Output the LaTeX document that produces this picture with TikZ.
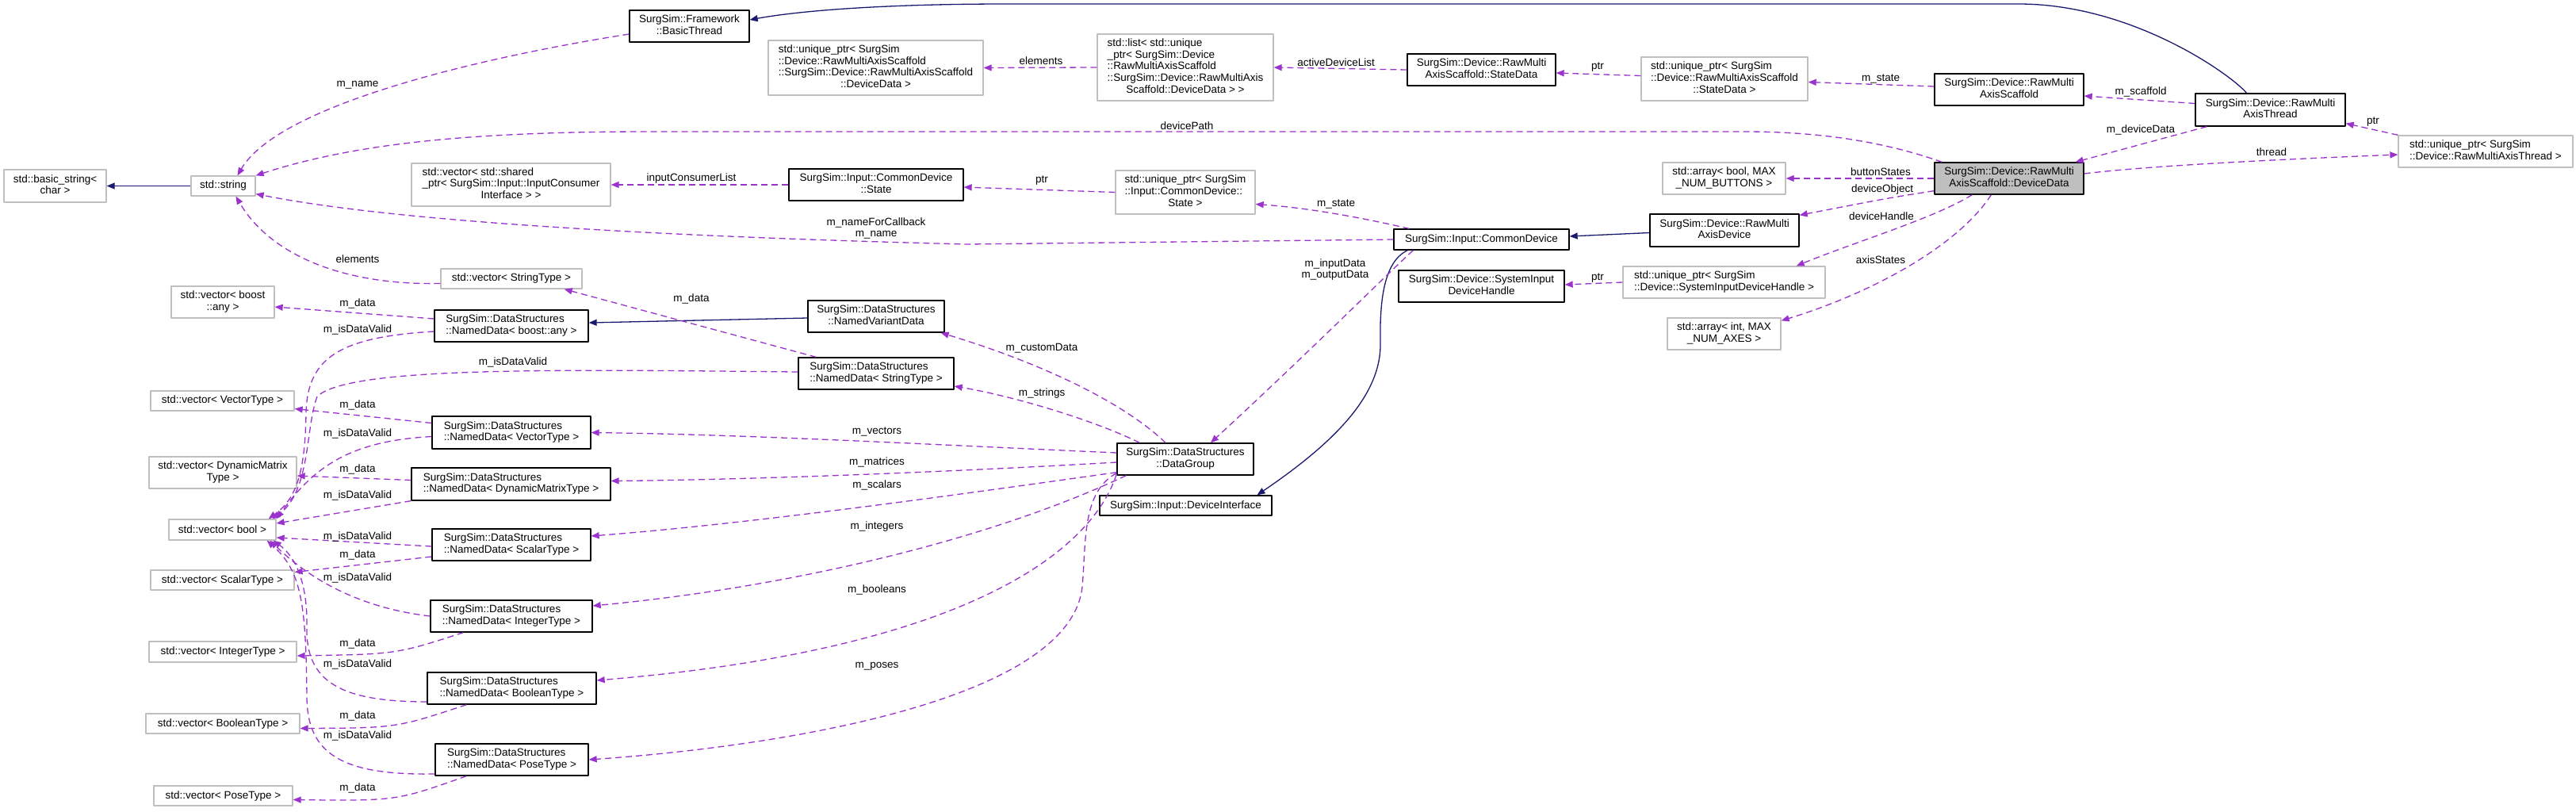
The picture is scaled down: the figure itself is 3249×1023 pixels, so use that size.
\documentclass[tikz,border=0pt]{standalone}
\usepackage{fontspec}
\setmainfont{Liberation Sans}
\usetikzlibrary{arrows.meta,calc}
\definecolor{usage}{HTML}{9A32CD}
\definecolor{inherit}{HTML}{191970}
\definecolor{extgray}{HTML}{BFBFBF}
\definecolor{focus}{HTML}{BFBFBF}
\newcommand{\twoline}[2]{\begin{tabular}{@{}l@{}}#1\\\multicolumn{1}{@{}c@{}}{#2}\end{tabular}}
\newcommand{\klass}[6]{%
  \node[#1,minimum width=#4pt,minimum height=#5pt] (#2) at (#3) {#6};
}
\tikzset{
  own/.style={draw=black,line width=1.3pt,fill=white,inner sep=0pt},
  ext/.style={draw=extgray,line width=1.3pt,fill=white,inner sep=0pt},
  self/.style={own,fill=focus},
  uses/.style={draw=usage,line width=1.3pt,dash pattern=on 8pt off 5pt,-{Triangle[length=10pt,width=8pt]}},
  isa/.style={draw=inherit,line width=1.3pt,-{Triangle[length=10pt,width=8pt]}},
  lbl/.style={inner sep=0pt,align=center}
}

\begin{document}
\begin{tikzpicture}[x=1pt,y=-1pt,line join=round,font=\fontsize{13.5pt}{14.7pt}\selectfont]
  \path[use as bounding box] (0,0) rectangle (3249,1023);
  \fill[white] (0,0) rectangle (3249,1023);

  \klass{ext}{basicstr}{69.5,234.5}{129}{41}{\twoline{std::basic\_string<}{char >}}
  \klass{ext}{stdstr}{281.5,234.5}{81}{25}{std::string}
  \klass{own}{bthread}{869.5,33}{151}{40}{\twoline{SurgSim::Framework}{::BasicThread}}
  \klass{ext}{vecconsumer}{644.5,233}{251}{54}{\twoline{std::vector< std::shared\\\_ptr< SurgSim::Input::InputConsumer}{Interface > >}}
  \klass{ext}{vecstrtype}{645,351.5}{178}{25}{std::vector< StringType >}
  \klass{ext}{vecany}{281,381}{130}{40}{\twoline{std::vector< boost}{::any >}}
  \klass{own}{ndany}{645,411}{194}{40}{\twoline{SurgSim::DataStructures}{::NamedData< boost::any >}}
  \klass{ext}{vecvector}{280.5,505.5}{181}{25}{std::vector< VectorType >}
  \klass{own}{ndvector}{645,545.5}{200}{41}{\twoline{SurgSim::DataStructures}{::NamedData< VectorType >}}
  \klass{ext}{vecmatrix}{281,596}{186}{40}{\twoline{std::vector< DynamicMatrix}{Type >}}
  \klass{own}{ndmatrix}{644.5,610.5}{251}{41}{\twoline{SurgSim::DataStructures}{::NamedData< DynamicMatrixType >}}
  \klass{ext}{vecbool}{280.5,668}{135}{26}{std::vector< bool >}
  \klass{own}{ndscalar}{645,687}{200}{40}{\twoline{SurgSim::DataStructures}{::NamedData< ScalarType >}}
  \klass{ext}{vecscalar}{280.5,731.5}{181}{25}{std::vector< ScalarType >}
  \klass{own}{ndinteger}{645,777}{204}{40}{\twoline{SurgSim::DataStructures}{::NamedData< IntegerType >}}
  \klass{ext}{vecinteger}{281,822}{186}{26}{std::vector< IntegerType >}
  \klass{own}{ndboolean}{645.5,868}{213}{40}{\twoline{SurgSim::DataStructures}{::NamedData< BooleanType >}}
  \klass{ext}{vecboolean}{281,912.5}{194}{25}{std::vector< BooleanType >}
  \klass{own}{ndpose}{645.5,958}{193}{40}{\twoline{SurgSim::DataStructures}{::NamedData< PoseType >}}
  \klass{ext}{vecpose}{281.5,1003.5}{175}{25}{std::vector< PoseType >}
  \klass{ext}{uptrdd}{1104.5,85.5}{271}{69}{\twoline{std::unique\_ptr< SurgSim\\::Device::RawMultiAxisScaffold\\::SurgSim::Device::RawMultiAxisScaffold}{::DeviceData >}}
  \klass{ext}{devlist}{1495,85}{222}{84}{\twoline{std::list< std::unique\\\_ptr< SurgSim::Device\\::RawMultiAxisScaffold\\::SurgSim::Device::RawMultiAxis}{Scaffold::DeviceData > >}}
  \klass{own}{cdstate}{1105,233}{220}{40}{\twoline{SurgSim::Input::CommonDevice}{::State}}
  \klass{ext}{uptrstate}{1495,242.5}{176}{55}{\twoline{std::unique\_ptr< SurgSim\\::Input::CommonDevice::}{State >}}
  \klass{own}{nvariant}{1105,399}{172}{40}{\twoline{SurgSim::DataStructures}{::NamedVariantData}}
  \klass{own}{ndstring}{1105,471}{196}{40}{\twoline{SurgSim::DataStructures}{::NamedData< StringType >}}
  \klass{own}{datagroup}{1495,579}{172}{40}{\twoline{SurgSim::DataStructures}{::DataGroup}}
  \klass{own}{devinterface}{1495.5,637.5}{217}{25}{SurgSim::Input::DeviceInterface}
  \klass{own}{statedata}{1868.5,88}{187}{40}{\twoline{SurgSim::Device::RawMulti}{AxisScaffold::StateData}}
  \klass{ext}{uptrsd}{2175,99.5}{210}{55}{\twoline{std::unique\_ptr< SurgSim\\::Device::RawMultiAxisScaffold}{::StateData >}}
  \klass{own}{commondev}{1868.5,302}{221}{26}{SurgSim::Input::CommonDevice}
  \klass{own}{sysdev}{1868.5,361}{209}{40}{\twoline{SurgSim::Device::SystemInput}{DeviceHandle}}
  \klass{ext}{arrbool}{2174.5,225}{155}{40}{\twoline{std::array< bool, MAX}{\_NUM\_BUTTONS >}}
  \klass{own}{rmdevice}{2175,290.5}{188}{41}{\twoline{SurgSim::Device::RawMulti}{AxisDevice}}
  \klass{ext}{uptrsys}{2174.5,356}{255}{40}{\twoline{std::unique\_ptr< SurgSim}{::Device::SystemInputDeviceHandle >}}
  \klass{ext}{arrint}{2174.5,421}{143}{40}{\twoline{std::array< int, MAX}{\_NUM\_AXES >}}
  \klass{own}{scaffold}{2534,113}{188}{40}{\twoline{SurgSim::Device::RawMulti}{AxisScaffold}}
  \klass{self}{devdata}{2534,225}{188}{40}{\twoline{SurgSim::Device::RawMulti}{AxisScaffold::DeviceData}}
  \klass{own}{rmthread}{2863.5,138.5}{189}{41}{\twoline{SurgSim::Device::RawMulti}{AxisThread}}
  \klass{ext}{uptrthread}{3135,191}{220}{40}{\twoline{std::unique\_ptr< SurgSim}{::Device::RawMultiAxisThread >}}

  % inheritance
  \draw[isa] (stdstr.west) -- (basicstr.east);
  \draw[isa] ($(rmthread.north)+(-30,0)$) .. controls (2815,95) and (2690,5) .. (2546,5) -- (1270,5) .. controls (1100,5) and (1000,15) .. ($(bthread.east)+(0,-8)$);
  \draw[isa] ($(nvariant.west)+(0,2)$) -- ($(ndany.east)+(0,-4)$);
  \draw[isa] ($(rmdevice.west)+(0,3)$) -- ($(commondev.east)+(0,-4)$);
  \draw[isa] ($(commondev.south west)+(18,0)$) .. controls (1745,330) and (1740,380) .. (1741,433) .. controls (1742,500) and (1680,560) .. ($(devinterface.north)+(90,0)$);

  % members
  \draw[uses] ($(bthread.west)+(0,10)$) .. controls (590,75) and (350,135) .. ($(stdstr.north)+(18,0)$);
  \draw[uses] ($(devdata.north west)+(10,0)$) .. controls (2380,180) and (2300,166) .. (2200,166) -- (820,166) .. controls (600,166) and (450,180) .. (stdstr.north east);
  \draw[uses] (commondev.west) -- (1220,308) .. controls (700,295) and (450,270) .. ($(stdstr.east)+(0,10)$);
  \draw[uses] ($(vecstrtype.west)+(0,6)$) .. controls (430,360) and (340,320) .. ($(stdstr.south)+(16,0)$);
  \draw[uses] (cdstate.west) -- (vecconsumer.east);
  \draw[uses] (uptrstate.west) -- ($(cdstate.east)+(0,3)$);
  \draw[uses] ($(commondev.north west)+(20,0)$) .. controls (1720,275) and (1650,262) .. ($(uptrstate.east)+(0,15)$);
  \draw[uses] (devlist.west) -- (uptrdd.east);
  \draw[uses] (statedata.west) -- (devlist.east);
  \draw[uses] ($(uptrsd.west)+(0,-4)$) -- ($(statedata.east)+(0,4)$);
  \draw[uses] ($(scaffold.west)+(0,-4)$) -- ($(uptrsd.east)+(0,4)$);
  \draw[uses] ($(rmthread.west)+(0,-8)$) -- ($(scaffold.east)+(0,8)$);
  \draw[uses] ($(rmthread.south west)+(15,0)$) -- ($(devdata.north east)+(-11,0)$);
  \draw[uses] (uptrthread.north west) -- ($(rmthread.south east)+(0,-4)$);
  \draw[uses] ($(devdata.east)+(0,-6)$) .. controls (2720,208) and (2900,200) .. ($(uptrthread.west)+(0,4)$);
  \draw[uses] (devdata.west) -- (arrbool.east);
  \draw[uses] ($(devdata.south west)+(0,-5)$) .. controls (2380,250) .. ($(rmdevice.north east)+(0,2)$);
  \draw[uses] ($(devdata.south west)+(48,0)$) .. controls (2440,275) and (2340,305) .. ($(uptrsys.north east)+(-37,0)$);
  \draw[uses] ($(devdata.south west)+(72,0)$) .. controls (2470,310) and (2360,370) .. ($(arrint.north east)+(0,4)$);
  \draw[uses] (uptrsys.west) -- ($(sysdev.east)+(0,-2)$);
  \draw[uses] ($(commondev.south west)+(25,0)$) .. controls (1745,350) and (1650,445) .. ($(datagroup.north)+(32,0)$);
  \draw[uses] ($(datagroup.north)+(-25,0)$) .. controls (1420,510) and (1320,460) .. ($(nvariant.south east)+(-5,0)$);
  \draw[uses] ($(datagroup.north west)+(29,0)$) .. controls (1380,530) and (1280,500) .. ($(ndstring.east)+(0,16)$);
  \draw[uses] ($(datagroup.west)+(0,-8)$) .. controls (1200,562) and (950,548) .. (ndvector.east);
  \draw[uses] ($(datagroup.west)+(0,4)$) .. controls (1200,595) and (950,605) .. ($(ndmatrix.east)+(0,-4)$);
  \draw[uses] ($(datagroup.south west)+(0,-4)$) .. controls (1200,625) and (950,660) .. ($(ndscalar.east)+(0,-11)$);
  \draw[uses] ($(datagroup.south west)+(12,0)$) .. controls (1250,680) and (1000,740) .. ($(ndinteger.east)+(0,-13)$);
  \draw[uses] ($(datagroup.south west)+(0,-2)$) .. controls (1375,700) and (1210,820) .. ($(ndboolean.east)+(0,-10)$);
  \draw[uses] ($(datagroup.south west)+(0,-3)$) .. controls (1365,620) and (1370,680) .. (1365,740) .. controls (1350,880) and (1000,940) .. (ndpose.east);

  \draw[uses] ($(ndstring.north west)+(23,0)$) -- ($(vecstrtype.south east)+(-23,0)$);
  \draw[uses] ($(ndstring.west)+(0,-2)$) .. controls (700,466) and (440,462) .. (400,500) .. controls (385,540) and (392,620) .. ($(vecbool.north east)+(-5,0)$);
  \draw[uses] ($(ndany.west)+(0,-9)$) -- ($(vecany.east)+(0,6)$);
  \draw[uses] ($(ndany.west)+(0,7)$) .. controls (430,425) and (388,450) .. (386,520) .. controls (385,600) and (372,630) .. ($(vecbool.north east)+(-10,0)$);
  \draw[uses] ($(ndvector.west)+(0,-12)$) -- ($(vecvector.east)+(0,10)$);
  \draw[uses] ($(ndvector.west)+(0,5)$) .. controls (440,556) and (395,590) .. (vecbool.north east);
  \draw[uses] ($(ndmatrix.west)+(0,-5)$) -- ($(vecmatrix.east)+(0,4)$);
  \draw[uses] (ndmatrix.south west) -- ($(vecbool.east)+(0,-8)$);
  \draw[uses] ($(ndscalar.west)+(0,2)$) -- ($(vecbool.east)+(0,10)$);
  \draw[uses] ($(ndscalar.west)+(0,15)$) -- ($(vecscalar.east)+(0,-10)$);
  \draw[uses] (ndinteger.west) .. controls (440,765) and (380,720) .. ($(vecbool.south east)+(-8,0)$);
  \draw[uses] ($(ndinteger.south west)+(42,0)$) .. controls (500,825) .. ($(vecinteger.east)+(0,5)$);
  \draw[uses] ($(ndboolean.west)+(0,17)$) .. controls (430,885) and (385,860) .. (387,790) .. controls (388,730) and (370,700) .. ($(vecbool.south east)+(-4,0)$);
  \draw[uses] ($(ndboolean.south west)+(50,0)$) .. controls (500,918) .. ($(vecboolean.east)+(0,6)$);
  \draw[uses] ($(ndpose.west)+(0,18)$) .. controls (430,978) and (388,950) .. (387,880) .. controls (386,760) and (380,720) .. ($(vecbool.south east)+(-12,0)$);
  \draw[uses] ($(ndpose.south west)+(40,0)$) .. controls (500,1010) .. ($(vecpose.east)+(0,5)$);

  \foreach \x/\y/\txt [count=\n] in {
    451/107/m\_name, 1497/159/devicePath, 1105/288/{m\_nameForCallback\\m\_name},
    451/327/elements, 872/225/inputConsumerList, 1314/228/ptr, 1685/257/m\_state,
    1313/77/elements, 1685/79/activeDeviceList, 2015/85/ptr, 2372/99/m\_state,
    2700/116/m\_scaffold, 2700/164/m\_deviceData, 2993/154/ptr, 2865/192/thread,
    2372/217/buttonStates, 2374/239/deviceObject, 2373/273/deviceHandle,
    2372/328/axisStates, 2015/351/ptr, 1684/340/{m\_inputData\\m\_outputData},
    872/377/m\_data, 1314/439/m\_customData, 1314/496/m\_strings,
    1106/544/m\_vectors, 1106/583/m\_matrices, 1106/612/m\_scalars,
    1106/664/m\_integers, 1106/744/m\_booleans, 1106/840/m\_poses,
    451/383/m\_data, 451/416/m\_isDataValid, 647/457/m\_isDataValid,
    451/511/m\_data, 451/547/m\_isDataValid, 451/592/m\_data, 451/625/m\_isDataValid,
    451/677/m\_isDataValid, 451/700/m\_data, 451/729/m\_isDataValid,
    451/812/m\_data, 451/838/m\_isDataValid, 451/903/m\_data,
    451/928/m\_isDataValid, 451/994/m\_data}
    \node[lbl] (lbl\n) at (\x,\y) {\txt};
\end{tikzpicture}
\end{document}
